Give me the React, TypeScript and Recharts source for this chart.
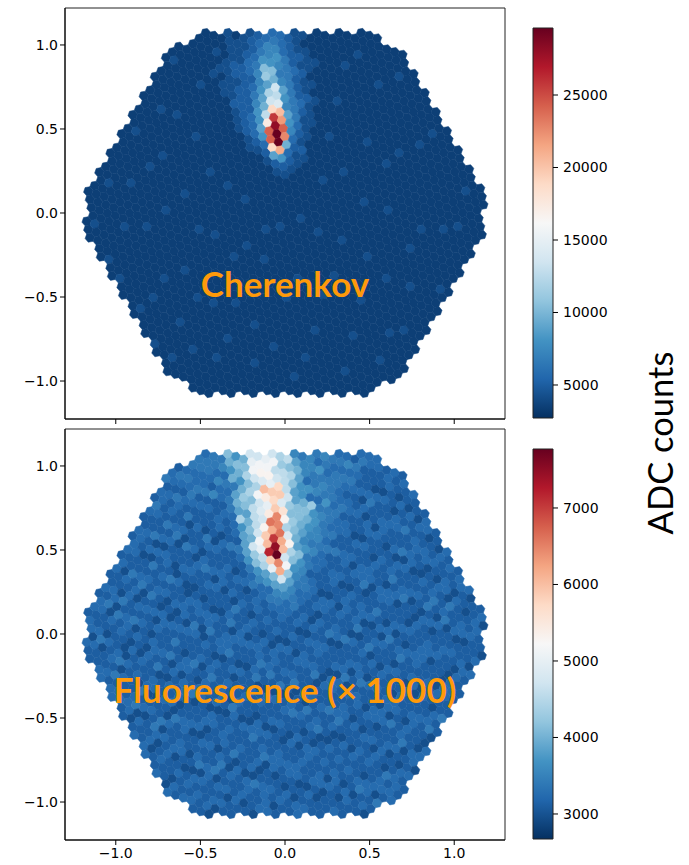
import { Bar, BarChart, ReferenceArea, Scatter, ScatterChart, XAxis, YAxis } from "recharts";

// camera lattice: columns run almost vertically, each string is one column read from the top
// one character = one pixel, level 0-z (base 36) between the colorbar limits
const cherenkovColumns = [
  "1",
  "11111",
  "111121111",
  "111111111211",
  "1111111111111211",
  "1121111111111111111",
  "11111111121111111112111",
  "11111111111111111111111121",
  "111111211111111111112111111111",
  "111111111111211111111111111121111",
  "11211111111111111111211111111111111",
  "11111112111111111111111111211111111",
  "1111111111111121111111111111111211111",
  "11111111211111111111112111111111111111",
  "111121111111111111111111111211111111111",
  "1111111111111112111111111111111111121111",
  "111111121111111111111211111111211111111111",
  "121111111111111111111111111111111112111111",
  "11111111111211111111111211111111111111111111",
  "111111111111111211111111111111121111111111111",
  "11111211111111111111111111211111111111121111",
  "11111111111111111121111111111111111211111111",
  "111112111111111111111111112111111111111111111",
  "11212122111111111111211111111111111111211111",
  "11122222322211111111111111121111111111111111",
  "222233233333322111111111211111111111111111211",
  "12223333334443211111111111111111211111111111",
  "22344345677874321111111211111111111111121111",
  "2334566789djssl832111111111111211111111111111",
  "3457ab8celuxzzo73211111111111111111121111111",
  "4667a9edfnpsq94321111121111111111111111111",
  "456765687687643221111111111111112111111111111",
  "44455555555432321111111121111111111111111211",
  "33334333432221111111111111111211111111111111",
  "222323223222111111211111111111111111121111111",
  "21222121211111111111111112111111111111111111",
  "11121111111121111111111111111111211111111111",
  "111111111111111112111111111111111111111121111",
  "11111111211111111111111111121111111111111111",
  "11111111111111111111211111111111111121111111",
  "111121111111111111111111111111211111111111111",
  "111111111111121111111111111111111111211111",
  "112111111111111111111211111111111111111111",
  "1111111111111111211111111111111211111111",
  "111111211111111111111111112111111111111",
  "11111111111111211111111111111111111211",
  "1111111111111111111111211111111111111",
  "11121111111111111111111111111211111",
  "11111111111211111111111111111111111",
  "111111111111111111121111111111112",
  "111112111111111111111111111111",
  "11111111111111211111111111",
  "11111111111111111111211",
  "1111121111111111111",
  "1111111111211111",
  "111111111111",
  "111121111",
];

const fluorescenceColumns = [
  "3",
  "43344",
  "344243344",
  "433452334344",
  "3443324343534433",
  "4352433345243344234",
  "33442534322433345243344",
  "43325344324334253423342334",
  "342434335243243342343542343324",
  "433534243433243344233524343324342",
  "34433452343324435233432433423433424",
  "44323343534243343324342533443234343",
  "3343425334324433352433423443323243433",
  "43352433434232435334244333423345243342",
  "354334244353342343324433523342433443342",
  "4433534332243344243335324433423433524343",
  "534343452334322433543342343324433245334233",
  "443543342533432344322433453342334433243343",
  "35434352334243332344533243344323433524334233",
  "454543343324534332433442334325433343324433243",
  "54453433254334243323344534233432433334253343",
  "5544534333243344233452433243343324533423",
  "4554363344243343342533443323343324434523343234",
  "55464434333533243343342433452343324334423343",
  "5645455444354334233243344533243342334433243344",
  "a9795898c78887545344332433453243343233443324",
  "7a979ba89a9eba76443343324433523433243344233433",
  "9acacadddehgdc87454334243343324533423433243344",
  "eghechefeimnvmga86544332433452334323443343233",
  "ehifnjgjrouxzqoe864433432433342534324334423343",
  "ghigmlmqqronehb865534233443324334523343243344",
  "ehdelmfkicfica765443432433452334333243344323343",
  "cbdddebaba98a76554332434433243353423343324434",
  "daca88aa98675534434243343324433453243343323344",
  "6898779a97656443324433523342433443332433453423",
  "566474b7766544333243344233452433243343324433",
  "665564565545334433243353342334433243343342533",
  "5475657554535334234433243344533243342433443323",
  "654555454433443324334523433243344233432534433",
  "54554453443342433344233524334324433423344323",
  "45454344332433445233423433243344253343243343",
  "4645433433243344233534243343324433452334",
  "35434242443324334433245332433433243344233",
  "453334533243343324433423453324334433243",
  "44332433443233453423343243344233433243",
  "4433243343342433453324334433243345233",
  "3443324433524334232433443343324334243",
  "43324335334423343243344233243354334",
  "343324334433243353423343324433243",
  "433243344233453243343324433423434",
  "344233432433452334324334433243",
  "33243344253342334433243343",
  "43433243344233243345243",
  "3443323343342433534",
  "4233443324334433",
  "342433453324",
  "443324334",
];

const cherenkovLimits = [2724, 29621];
const fluorescenceLimits = [2673, 7771];
const cherenkovTicks = [5000, 10000, 15000, 20000, 25000];
const fluorescenceTicks = [3000, 4000, 5000, 6000, 7000];
const axisTicks = [-1, -0.5, 0, 0.5, 1];

const rdBu = ["#053061", "#2166ac", "#4393c3", "#92c5de", "#d1e5f0", "#f7f7f7", "#fddbc7", "#f4a582", "#d6604d", "#b2182b", "#67001f"];

const pitch = 0.0496;
const tickFont = { fontFamily: "DejaVu Sans", fontSize: 14, fill: "#000" };
const fmt = (v: number) => v.toFixed(1).replace("-", "\u2212");

const colorAt = (t: number) => {
  const p = Math.min(Math.max(t, 0), 1) * (rdBu.length - 1);
  const n = Math.min(Math.floor(p), rdBu.length - 2);
  const mix = (s: number) => {
    const a = parseInt(rdBu[n].slice(s, s + 2), 16);
    const b = parseInt(rdBu[n + 1].slice(s, s + 2), 16);
    return Math.round(a + (b - a) * (p - n));
  };
  return `rgb(${mix(1)},${mix(3)},${mix(5)})`;
};

const onCamera = (u: number, v: number) =>
  Math.abs(v) <= 1.075 &&
  Math.abs(v * 0.5 + u * 0.866) <= 1.075 &&
  Math.abs(v * 0.5 - u * 0.866) <= 1.075 &&
  Math.hypot(u, v) <= 1.178;

const buildCells = (columns: string[], limits: number[], fallback: string) => {
  const cells: { x: number; y: number; value: number; t: number }[] = [];
  columns.forEach((levels, c) => {
    const i = c - 28;
    let k = 0;
    for (let j = 40; j >= -40; j--) {
      const x = pitch * (i * 0.945 - j * 0.189);
      const y = pitch * (-i * 0.327 + j * 0.982);
      if (!onCamera(x, y)) continue;
      const level = parseInt(levels[k] ?? fallback, 36);
      k++;
      cells.push({ x, y, value: limits[0] + (level / 35) * (limits[1] - limits[0]), t: level / 35 });
    }
  });
  return cells;
};

const Hex = ({ cx, cy, payload }: any) => {
  const r = 4.85;
  const pts = [0, 1, 2, 3, 4, 5].map((n) => {
    const a = ((10.9 + 60 * n) * Math.PI) / 180;
    return `${cx + r * Math.cos(a)},${cy - r * Math.sin(a)}`;
  });
  const c = colorAt(payload.t);
  return <polygon points={pts.join(" ")} fill={c} stroke={c} strokeWidth={0.5} />;
};

const Panel = ({ cells, top, height, labels }: any) => (
  <ScatterChart
    width={520}
    height={height}
    margin={{ top: 8, right: 15, bottom: 0, left: 0 }}
    style={{ position: "absolute", left: 0, top }}
  >
    <XAxis
      type="number"
      dataKey="x"
      domain={[-1.3, 1.3]}
      ticks={axisTicks}
      height={labels ? 25 : 21}
      tickSize={5}
      tickMargin={3}
      tick={tickFont}
      tickFormatter={labels ? fmt : () => ""}
      stroke="#000"
    />
    <YAxis
      type="number"
      dataKey="y"
      domain={[-1.226, 1.22]}
      ticks={axisTicks}
      width={65}
      tickSize={5}
      tick={tickFont}
      tickFormatter={fmt}
      stroke="#000"
    />
    <Scatter data={cells} isAnimationActive={false} shape={<Hex />} />
    <ReferenceArea x1={-1.3} x2={1.3} y1={-1.226} y2={1.22} fill="none" stroke="#222" strokeWidth={1} />
  </ScatterChart>
);

const ColorBar = ({ id, limits, ticks, top }: any) => (
  <BarChart
    width={110}
    height={392}
    data={[{ name: "scale", range: limits }]}
    margin={{ top: 1, right: 0, bottom: 1, left: 1 }}
    barCategoryGap={0}
    style={{ position: "absolute", left: 532, top }}
  >
    <defs>
      <linearGradient id={id} x1="0" y1="1" x2="0" y2="0">
        {rdBu.map((c, n) => (
          <stop key={c} offset={n / (rdBu.length - 1)} stopColor={c} />
        ))}
      </linearGradient>
    </defs>
    <XAxis dataKey="name" hide />
    <YAxis
      orientation="right"
      type="number"
      domain={limits}
      ticks={ticks}
      width={89}
      tickSize={5}
      tickMargin={5}
      tick={tickFont}
      axisLine={false}
      stroke="#000"
      interval={0}
    />
    <Bar dataKey="range" fill={`url(#${id})`} stroke="#222" strokeWidth={1} isAnimationActive={false} />
  </BarChart>
);

const overlay = {
  position: "absolute" as const,
  color: "#ff9a0a",
  fontFamily: "Lato",
  fontWeight: 700,
  fontSize: 35,
  whiteSpace: "nowrap" as const,
  transform: "translate(-50%, -50%)",
};

export default function App() {
  return (
    <div style={{ position: "absolute", left: 0, top: 0, width: 689, height: 865, background: "#fff" }}>
      <Panel cells={buildCells(cherenkovColumns, cherenkovLimits, "1")} top={0} height={440} labels={false} />
      <Panel cells={buildCells(fluorescenceColumns, fluorescenceLimits, "4")} top={421} height={444} labels />
      <ColorBar id="cherenkovScale" limits={cherenkovLimits} ticks={cherenkovTicks} top={27} />
      <ColorBar id="fluorescenceScale" limits={fluorescenceLimits} ticks={fluorescenceTicks} top={448} />
      <div style={{ ...overlay, left: 285, top: 283 }}>Cherenkov</div>
      <div style={{ ...overlay, left: 285, top: 689 }}>Fluorescence (× 1000)</div>
      <div
        style={{
          position: "absolute",
          left: 659,
          top: 443,
          fontFamily: "Lato",
          fontSize: 34.5,
          whiteSpace: "nowrap",
          transform: "translate(-50%, -50%) rotate(-90deg)",
        }}
      >
        ADC counts
      </div>
    </div>
  );
}
